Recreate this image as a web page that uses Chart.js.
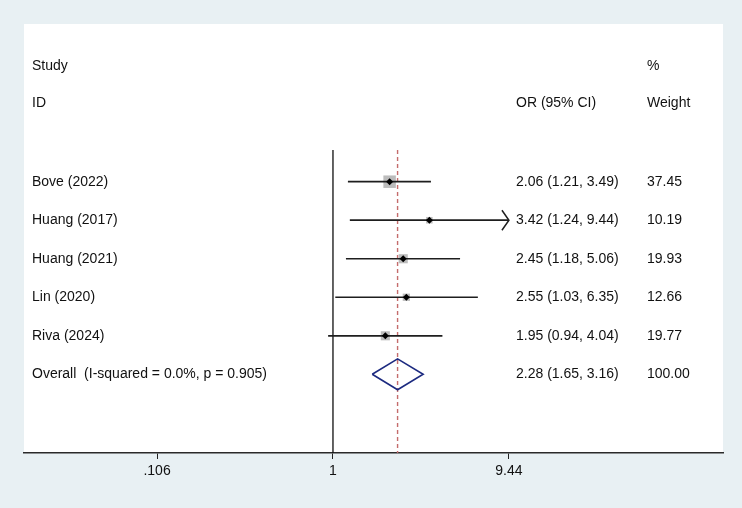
<!DOCTYPE html>
<html>
<head>
<meta charset="utf-8">
<script src="https://cdn.jsdelivr.net/npm/chart.js@4/dist/chart.umd.min.js"></script>
<style>
html,body{margin:0;padding:0;background:#e8f0f3;}
canvas{display:block;}
</style>
</head>
<body>
<canvas id="c" width="742" height="508"></canvas>
<script>
// ---- data ----
const studies = ['Bove (2022)', 'Huang (2017)', 'Huang (2021)', 'Lin (2020)', 'Riva (2024)'];
const oddsRatios = [2.06, 3.42, 2.45, 2.55, 1.95];
const lowerCI = [1.21, 1.24, 1.18, 1.03, 0.94];
const upperCI = [3.49, 9.44, 5.06, 6.35, 4.04];
const weights = [37.45, 10.19, 19.93, 12.66, 19.77];
const overallLabel = 'Overall  (I-squared = 0.0%, p = 0.905)';
const overallOR = 2.28;
const overallLower = 1.65;
const overallUpper = 3.16;
const overallWeight = 100.00;
const tickValues = [0.106, 1, 9.44];
const tickLabels = ['.106', '1', '9.44'];
const headerStudy = ['Study', 'ID'];
const headerOR = ['', 'OR (95% CI)'];
const headerWeight = ['%', 'Weight'];

// ---- style / layout ----
const BG = '#e8f0f3';
const FONT = '14px "Liberation Sans", Arial, Helvetica, sans-serif';
const TEXT = '#111';
const rowIdx = studies.map((_, i) => i + 1);
const overallRow = studies.length + 1;
const Y_MIN = -3.094, Y_MAX = 8.043;
const LINE_TOP = 0.18;
const headerRows = [-2.01, -1.05];
const maxBoxSide = 12.5;
const maxW = Math.max(...weights);
const diamondH = 0.40;

const datasets = [];
// null line at 1
datasets.push({
  type: 'line', data: [{x: 1, y: LINE_TOP}, {x: 1, y: Y_MAX}],
  borderColor: '#111', borderWidth: 1.3, pointRadius: 0, fill: false, order: 5
});
// overall dashed line
datasets.push({
  type: 'line', data: [{x: overallOR, y: LINE_TOP}, {x: overallOR, y: Y_MAX}],
  borderColor: '#c46c6c', borderWidth: 1.4, borderDash: [4, 3], pointRadius: 0, fill: false, order: 4
});
// weight boxes
datasets.push({
  type: 'scatter',
  data: oddsRatios.map((v, i) => ({x: v, y: rowIdx[i]})),
  pointStyle: 'rect',
  pointRadius: weights.map(w => maxBoxSide * Math.sqrt(w / maxW) / Math.SQRT2),
  backgroundColor: '#bcbcbc', borderWidth: 0, order: 3
});
// CI lines
studies.forEach((s, i) => {
  datasets.push({
    type: 'line', data: [{x: lowerCI[i], y: rowIdx[i]}, {x: upperCI[i], y: rowIdx[i]}],
    borderColor: '#1e1e1e', borderWidth: 1.7, pointRadius: 0, fill: false, order: 2
  });
});
// point estimates
datasets.push({
  type: 'scatter',
  data: oddsRatios.map((v, i) => ({x: v, y: rowIdx[i]})),
  pointStyle: 'rectRot', pointRadius: 3.5,
  backgroundColor: '#000', borderColor: '#000', borderWidth: 0, order: 1
});
// overall diamond
datasets.push({
  type: 'line',
  data: [
    {x: overallLower, y: overallRow},
    {x: overallOR, y: overallRow - diamondH},
    {x: overallUpper, y: overallRow},
    {x: overallOR, y: overallRow + diamondH},
    {x: overallLower, y: overallRow}
  ],
  borderColor: '#1c2a80', borderWidth: 1.6, pointRadius: 0, fill: false, tension: 0, order: 1
});

const decor = {
  id: 'decor',
  beforeDraw(chart) {
    const {ctx, chartArea: a} = chart;
    ctx.save();
    ctx.fillStyle = BG;
    ctx.fillRect(0, 0, chart.width, chart.height);
    ctx.fillStyle = '#fff';
    ctx.fillRect(a.left, a.top, a.right - a.left, a.bottom - a.top);
    ctx.restore();
  },
  afterDatasetsDraw(chart) {
    const {ctx, scales: {x, y}} = chart;
    ctx.save();
    ctx.font = FONT;
    ctx.fillStyle = TEXT;
    ctx.textBaseline = 'middle';
    ctx.textAlign = 'left';
    const colStudy = 32, colOR = 516, colW = 647;
    headerRows.forEach((r, k) => {
      const py = y.getPixelForValue(r);
      if (headerStudy[k]) ctx.fillText(headerStudy[k], colStudy, py);
      if (headerOR[k]) ctx.fillText(headerOR[k], colOR, py);
      if (headerWeight[k]) ctx.fillText(headerWeight[k], colW, py);
    });
    studies.forEach((s, i) => {
      const py = y.getPixelForValue(rowIdx[i]);
      ctx.fillText(s, colStudy, py);
      ctx.fillText(`${oddsRatios[i].toFixed(2)} (${lowerCI[i].toFixed(2)}, ${upperCI[i].toFixed(2)})`, colOR, py);
      ctx.fillText(weights[i].toFixed(2), colW, py);
    });
    const po = y.getPixelForValue(overallRow);
    ctx.fillText(overallLabel, colStudy, po);
    ctx.fillText(`${overallOR.toFixed(2)} (${overallLower.toFixed(2)}, ${overallUpper.toFixed(2)})`, colOR, po);
    ctx.fillText(overallWeight.toFixed(2), colW, po);
    // arrowheads where CI reaches the axis limit
    const cap = Math.max(...tickValues);
    ctx.strokeStyle = '#1e1e1e';
    ctx.lineWidth = 1.5;
    upperCI.forEach((u, i) => {
      if (u >= cap) {
        const px = x.getPixelForValue(u), py = y.getPixelForValue(rowIdx[i]);
        ctx.beginPath();
        ctx.moveTo(px - 7, py - 10);
        ctx.lineTo(px, py);
        ctx.lineTo(px - 7, py + 10);
        ctx.stroke();
      }
    });
    ctx.restore();
  }
};

new Chart(document.getElementById('c'), {
  data: {datasets},
  options: {
    responsive: false,
    animation: false,
    layout: {padding: {left: 24, right: 19, top: 24, bottom: 0}},
    plugins: {legend: {display: false}, tooltip: {enabled: false}},
    scales: {
      x: {
        type: 'logarithmic',
        position: 'bottom',
        bounds: 'data',
        min: 0.01941,
        max: 144.9,
        afterBuildTicks(scale) { scale.ticks = tickValues.map(v => ({value: v})); },
        afterFit(scale) { scale.height = 55; },
        grid: {display: true, drawOnChartArea: false, drawTicks: true, tickLength: 6, color: '#222', lineWidth: 1},
        border: {display: true, color: '#2a2a2a', width: 1.5},
        ticks: {
          autoSkip: false, maxRotation: 0, padding: 4, color: TEXT,
          font: {family: '"Liberation Sans", Arial, Helvetica, sans-serif', size: 14},
          callback: (v, i) => tickLabels[i]
        }
      },
      y: {type: 'linear', display: false, min: Y_MIN, max: Y_MAX, reverse: true}
    }
  },
  plugins: [decor]
});
</script>
</body>
</html>
